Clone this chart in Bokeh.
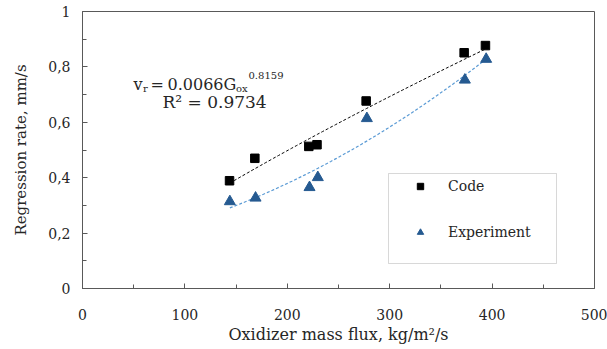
import numpy as np
from bokeh.plotting import figure
from bokeh.models import (Range1d, Label, Legend, LegendItem, BoxAnnotation,
                          CustomJSTickFormatter, FixedTicker)
from bokeh.embed import file_html
from bokeh.resources import INLINE

# ---- data ----
code_flux = [143.6, 168.3, 221.0, 229.0, 277.0, 372.7, 393.5]
code_rate = [0.389, 0.470, 0.513, 0.519, 0.677, 0.851, 0.877]
exp_flux = [143.9, 169.0, 221.7, 229.8, 277.7, 373.4, 394.2]
exp_rate = [0.314, 0.327, 0.365, 0.401, 0.614, 0.753, 0.828]
fit_coef = 0.0066
fit_power = 0.8159
r_squared = 0.9734
x_ticks = [0, 100, 200, 300, 400, 500]
x_minor = [50, 150, 250, 350, 450]
y_ticks = [0, 0.2, 0.4, 0.6, 0.8, 1.0]
y_minor = [0.1, 0.3, 0.5, 0.7, 0.9]
series_names = ["Code", "Experiment"]

FONT = "DejaVu Serif"
TXT = "#262626"
AX = "#595959"

p = figure(width=607, height=349, output_backend="svg", toolbar_location=None,
           x_range=Range1d(0, 500), y_range=Range1d(0, 1),
           min_border_left=82, min_border_right=13, min_border_top=11,
           min_border_bottom=61)
p.xgrid.visible = False
p.ygrid.visible = False
p.outline_line_color = AX
p.outline_line_width = 1
p.background_fill_color = "white"
p.border_fill_color = "white"

p.xaxis.ticker = FixedTicker(ticks=x_ticks, minor_ticks=x_minor)
p.yaxis.ticker = FixedTicker(ticks=y_ticks, minor_ticks=y_minor)
p.yaxis.formatter = CustomJSTickFormatter(
    code="return String(Math.round(tick*10)/10).replace('.', ',');")
p.xaxis.axis_label = "Oxidizer mass flux, kg/m\u00b2/s"
p.yaxis.axis_label = "Regression rate, mm/s"
for ax in (p.xaxis, p.yaxis):
    ax.axis_line_color = AX
    ax.major_tick_line_color = AX
    ax.minor_tick_line_color = AX
    ax.major_tick_in = 5
    ax.major_tick_out = 0
    ax.minor_tick_in = 4
    ax.minor_tick_out = 0
    ax.major_label_text_font = FONT
    ax.major_label_text_font_size = "14px"
    ax.major_label_text_color = TXT
    ax.axis_label_text_font = FONT
    ax.axis_label_text_font_style = "normal"
    ax.axis_label_text_color = TXT
p.xaxis.axis_label_text_font_size = "16px"
p.yaxis.axis_label_text_font_size = "15px"
p.xaxis.major_label_standoff = 20
p.yaxis.major_label_standoff = 12
p.xaxis.axis_label_standoff = 2
p.yaxis.axis_label_standoff = 15

# ---- trend lines ----
g1 = np.linspace(min(code_flux), max(code_flux), 100)
p.line(g1, fit_coef * g1 ** fit_power, line_color="black", line_dash="3 2",
       line_width=1)
cf = np.polyfit(exp_flux, exp_rate, 2)
g2 = np.linspace(min(exp_flux), max(exp_flux), 100)
p.line(g2, np.polyval(cf, g2), line_color="#5B9BD5", line_dash="3 2",
       line_width=1.2)

# ---- points ----
r_code = p.scatter(code_flux, code_rate, marker="square", size=8.5,
                   fill_color="black", line_color="black")
r_exp = p.scatter(exp_flux, exp_rate, marker="triangle", size=11,
                  fill_color="#255A91", line_color="#255A91")

# ---- legend ----
def dx(px):
    return (px - 82) / 1.024

def dy(py):
    return (288 - py) / 277.0

box = BoxAnnotation(left=dx(388), right=dx(556), top=dy(173), bottom=dy(263),
                    fill_color="white", fill_alpha=1.0, line_color="#7f7f7f",
                    line_width=1)
p.add_layout(box)

legend = Legend(items=[LegendItem(label=series_names[0], renderers=[r_code]),
                       LegendItem(label=series_names[1], renderers=[r_exp])],
                location=(325, 41), margin=0, padding=5, spacing=26,
                glyph_width=16, glyph_height=16, label_height=20,
                label_standoff=20, border_line_alpha=0,
                background_fill_alpha=0,
                label_text_font=FONT, label_text_font_size="14px",
                label_text_color=TXT)
p.add_layout(legend)

# ---- equation annotation ----
def lab(text, px, py, size):
    p.add_layout(Label(x=dx(px), y=dy(py), text=text, text_font=FONT,
                       text_font_size=size, text_color=TXT,
                       text_baseline="alphabetic", text_align="left"))

lab("v", 133, 84, "16px")
lab("r", 142.5, 87.5, "10px")
lab("=", 150, 84, "16px")
lab("%.4fG" % fit_coef, 167, 84, "16px")
lab("ox", 235.5, 87.5, "10px")
lab("%.4f" % fit_power, 248, 75, "10px")
lab("R\u00b2 = %.4f" % r_squared, 162, 101.5, "17px")

open("out.html", "w").write(file_html(p, INLINE))
